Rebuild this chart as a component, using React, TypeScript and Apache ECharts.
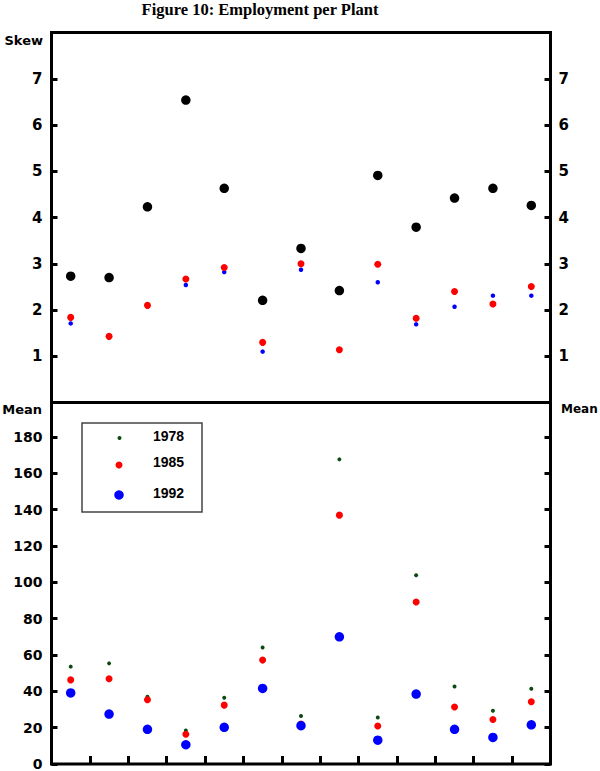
import React, { useEffect, useRef } from "react";
import * as echarts from "echarts";

const categories = ["1", "2", "3", "4", "5", "6", "7", "8", "9", "10", "11", "12", "13"];

// Upper panel: skewness
const skewBlue = [1.71, 1.43, 2.1, 2.54, 2.82, 1.1, 2.87, 1.14, 2.6, 1.69, 2.07, 2.31, 2.31];
const skewRed = [1.84, 1.43, 2.1, 2.67, 2.92, 1.3, 3.0, 1.14, 2.99, 1.82, 2.4, 2.13, 2.51];
const skewBlack = [2.73, 2.7, 4.23, 6.54, 4.63, 2.21, 3.33, 2.42, 4.91, 3.79, 4.42, 4.63, 4.26];

// Lower panel: mean employment per plant
const mean1978 = [53.6, 55.4, 37.0, 18.4, 36.5, 64.1, 26.4, 167.7, 25.6, 103.9, 42.7, 29.3, 41.4];
const mean1985 = [46.3, 46.9, 35.4, 16.4, 32.4, 57.2, 22.0, 137.0, 20.9, 89.2, 31.4, 24.5, 34.3];
const mean1992 = [39.1, 27.5, 19.1, 10.6, 20.2, 41.6, 21.1, 70.0, 13.1, 38.5, 19.1, 14.6, 21.6];

const skewTicks = [1, 2, 3, 4, 5, 6, 7];
const meanTicks = [0, 20, 40, 60, 80, 100, 120, 140, 160, 180];

const legendNames = ["1978", "1985", "1992"];

export default function App() {
  const ref = useRef<HTMLDivElement>(null);

  useEffect(() => {
    if (!ref.current) return;
    const chart = echarts.init(ref.current, null, { renderer: "svg" });

    const tickFont = {
      fontFamily: "DejaVu Sans",
      fontWeight: "bold" as const,
      color: "#000",
    };
    const tickLine = { lineStyle: { color: "#000", width: 3 } };

    const gridL = 51.5;
    const gridW = 499;

    const option: any = {
      animation: false,
      backgroundColor: "#fff",
      grid: [
        { left: gridL, width: gridW, top: 32.5, height: 370, show: true, borderColor: "#000", borderWidth: 3, backgroundColor: "transparent" },
        { left: gridL, width: gridW, top: 402.5, height: 365.5, show: true, borderColor: "#000", borderWidth: 3, backgroundColor: "transparent" },
      ],
      xAxis: [
        {
          type: "category",
          gridIndex: 0,
          data: categories,
          boundaryGap: true,
          axisLine: { show: false },
          axisTick: { show: false },
          axisLabel: { show: false },
          splitLine: { show: false },
        },
        {
          type: "category",
          gridIndex: 1,
          data: categories,
          boundaryGap: true,
          axisLine: { show: false },
          axisTick: { show: true, inside: true, length: 8, ...tickLine },
          axisLabel: { show: false },
          splitLine: { show: false },
        },
      ],
      yAxis: [
        {
          type: "value",
          gridIndex: 0,
          position: "left",
          min: 0,
          max: 8,
          interval: 1,
          axisLine: { show: false },
          axisTick: { show: true, inside: true, length: 6, ...tickLine },
          axisLabel: {
            ...tickFont,
            fontSize: 15,
            margin: 9,
            formatter: (v: number) => (skewTicks.includes(v) ? String(v) : ""),
          },
          splitLine: { show: false },
        },
        {
          type: "value",
          gridIndex: 0,
          position: "right",
          min: 0,
          max: 8,
          interval: 1,
          axisLine: { show: false },
          axisTick: { show: true, inside: true, length: 6, ...tickLine },
          axisLabel: {
            ...tickFont,
            fontSize: 15,
            margin: 8,
            formatter: (v: number) => (skewTicks.includes(v) ? String(v) : ""),
          },
          splitLine: { show: false },
        },
        {
          type: "value",
          gridIndex: 1,
          position: "left",
          min: 0,
          max: 199,
          interval: 20,
          axisLine: { show: false },
          axisTick: { show: true, inside: true, length: 6, ...tickLine },
          axisLabel: {
            ...tickFont,
            fontSize: 14,
            margin: 9,
            showMaxLabel: false,
            formatter: (v: number) => (meanTicks.includes(v) ? String(v) : ""),
          },
          splitLine: { show: false },
        },
        {
          type: "value",
          gridIndex: 1,
          position: "right",
          min: 0,
          max: 199,
          interval: 20,
          axisLine: { show: false },
          axisTick: { show: true, inside: true, length: 6, ...tickLine },
          axisLabel: { show: false },
          splitLine: { show: false },
        },
      ],
      series: [
        { name: "skewBlue", type: "scatter", xAxisIndex: 0, yAxisIndex: 0, data: skewBlue, symbolSize: 4.5, itemStyle: { color: "#0000ff", opacity: 1 } },
        { name: "skewRed", type: "scatter", xAxisIndex: 0, yAxisIndex: 0, data: skewRed, symbolSize: 7, itemStyle: { color: "#ff0000", opacity: 1 } },
        { name: "skewBlack", type: "scatter", xAxisIndex: 0, yAxisIndex: 0, data: skewBlack, symbolSize: 9.5, itemStyle: { color: "#000000", opacity: 1 } },
        { name: "1978", type: "scatter", xAxisIndex: 1, yAxisIndex: 2, data: mean1978, symbolSize: 4, itemStyle: { color: "#0b4a12", opacity: 1 } },
        { name: "1985", type: "scatter", xAxisIndex: 1, yAxisIndex: 2, data: mean1985, symbolSize: 7, itemStyle: { color: "#ff0000", opacity: 1 } },
        { name: "1992", type: "scatter", xAxisIndex: 1, yAxisIndex: 2, data: mean1992, symbolSize: 9.5, itemStyle: { color: "#0000ff", opacity: 1 } },
      ],
      graphic: [
        {
          type: "text",
          x: 260,
          y: 9,
          style: {
            text: "Figure 10: Employment per Plant",
            font: "bold 16.5px 'Liberation Serif'",
            fill: "#000",
            align: "center",
            verticalAlign: "middle",
          },
        },
        {
          type: "text",
          x: 43,
          y: 40,
          style: { text: "Skew", font: "bold 13px 'DejaVu Sans'", fill: "#000", align: "right", verticalAlign: "middle" },
        },
        {
          type: "text",
          x: 42,
          y: 409.5,
          style: { text: "Mean", font: "bold 13px 'DejaVu Sans'", fill: "#000", align: "right", verticalAlign: "middle" },
        },
        {
          type: "text",
          x: 561,
          y: 408.5,
          style: { text: "Mean", font: "bold 12px 'DejaVu Sans'", fill: "#000", align: "left", verticalAlign: "middle" },
        },
        {
          type: "rect",
          shape: { x: 82, y: 423, width: 120, height: 89 },
          style: { fill: "#fff", stroke: "#444", lineWidth: 1.5 },
          z: 10,
        },
        { type: "circle", shape: { cx: 119.5, cy: 438, r: 2 }, style: { fill: "#0b4a12" }, z: 11 },
        { type: "circle", shape: { cx: 119, cy: 465, r: 3.5 }, style: { fill: "#ff0000" }, z: 11 },
        { type: "circle", shape: { cx: 119, cy: 495, r: 4.75 }, style: { fill: "#0000ff" }, z: 11 },
        {
          type: "text",
          x: 153,
          y: 435.5,
          z: 11,
          style: { text: legendNames[0], font: "bold 14px 'Liberation Sans'", fill: "#000", align: "left", verticalAlign: "middle" },
        },
        {
          type: "text",
          x: 153,
          y: 462,
          z: 11,
          style: { text: legendNames[1], font: "bold 14px 'Liberation Sans'", fill: "#000", align: "left", verticalAlign: "middle" },
        },
        {
          type: "text",
          x: 153,
          y: 493,
          z: 11,
          style: { text: legendNames[2], font: "bold 14px 'Liberation Sans'", fill: "#000", align: "left", verticalAlign: "middle" },
        },
      ],
    };

    chart.setOption(option);
    return () => {
      chart.dispose();
    };
  }, []);

  return (
    <div
      ref={ref}
      style={{ position: "absolute", left: 0, top: 0, width: 600, height: 771 }}
    />
  );
}
